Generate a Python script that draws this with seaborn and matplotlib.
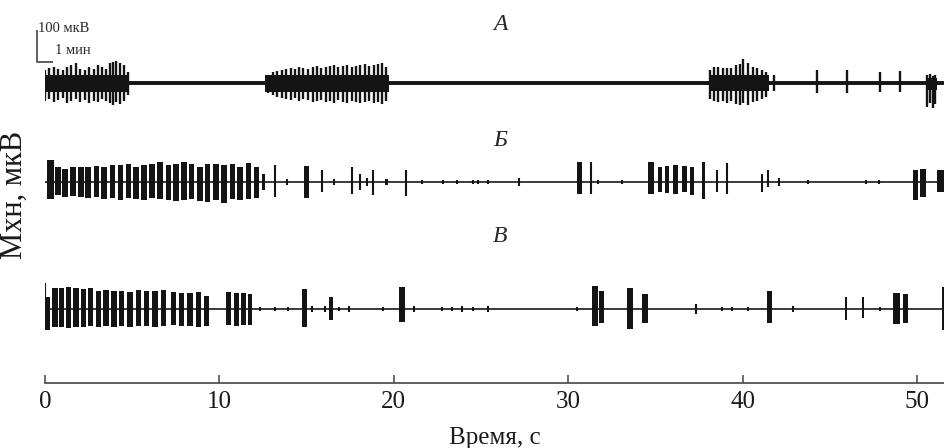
import numpy as np
import pandas as pd
import seaborn as sns
import matplotlib
matplotlib.use("Agg")
import matplotlib.pyplot as plt

# ---- data (time in s, amplitude in мкВ) ----
TRACE_NAMES = ["А", "Б", "В"]
TIME_TICKS = [0, 10, 20, 30, 40, 50]

# Trace A: dense bands under the bursts
A_BAND_T0 = [0.0, 12.6, 38.05, 50.5]
A_BAND_T1 = [4.8, 19.75, 41.5, 51.15]
A_BAND_UP = [25, 25, 25, 16]
A_BAND_DN = [28, 28, 25, 22]

# Trace A: single spikes
A_SPIKE_T = [0.02, 0.23, 0.5, 0.75, 1.03, 1.28, 1.51, 1.76, 2.02, 2.27, 2.5, 2.79,
             3.04, 3.29, 3.52, 3.71, 3.9, 4.09, 4.32, 4.53, 4.76,
             12.81, 13.06, 13.32, 13.57, 13.82, 14.09, 14.33, 14.58, 14.81, 15.1,
             15.35, 15.58, 15.83, 16.09, 16.34, 16.57, 16.82, 17.07, 17.33, 17.59,
             17.83, 18.06, 18.35, 18.6, 18.86, 19.11, 19.31, 19.55,
             38.13, 38.36, 38.61, 38.86, 39.09, 39.33, 39.6, 39.85, 40.04, 40.33,
             40.57, 40.81, 41.09, 41.34, 41.8,
             44.27, 46.0, 47.9, 49.0,
             50.6, 50.75, 50.9, 51.05]
A_SPIKE_UP = [41, 47, 50, 44, 41, 50, 56, 62, 44, 41, 50, 44,
              56, 50, 44, 62, 66, 69, 62, 56, 34,
              25, 34, 38, 41, 44, 47, 44, 50, 47, 44,
              50, 53, 47, 50, 53, 56, 50, 53, 56, 50,
              53, 56, 59, 53, 56, 59, 62, 50,
              41, 50, 50, 47, 47, 47, 56, 59, 75, 62,
              50, 47, 41, 34, 25,
              41, 41, 34, 38,
              25, 28, 22, 25]
A_SPIKE_DN = [56, 50, 59, 53, 47, 62, 56, 50, 59, 53, 62, 56,
              59, 50, 56, 62, 69, 59, 66, 56, 38,
              31, 38, 44, 47, 50, 53, 47, 56, 50, 53,
              59, 56, 53, 59, 56, 62, 53, 59, 62, 56,
              59, 62, 59, 56, 62, 59, 66, 56,
              50, 56, 59, 56, 62, 56, 66, 69, 62, 69,
              59, 56, 50, 44, 25,
              31, 31, 28, 28,
              75, 62, 78, 66]

# Trace Б: bursts (duration 0 = single spike)
B_T = [0.29, 0.76, 1.15, 1.59, 2.05, 2.48, 2.96, 3.38, 3.88, 4.34, 4.78, 5.22,
       5.68, 6.13, 6.59, 7.07, 7.51, 7.97, 8.41, 8.89, 9.31, 9.8, 10.26, 10.74,
       11.18, 11.66, 12.14, 12.52,
       13.19, 13.9, 15.0, 15.87, 16.6, 17.59, 18.06, 18.44, 18.79, 19.59, 20.7,
       21.6, 22.8, 23.6, 24.56, 24.85, 25.4, 27.2,
       30.65, 31.29, 31.7, 33.07, 34.75, 35.27, 35.67, 36.17, 36.67, 37.1, 37.75,
       38.51, 39.09, 41.09, 41.44, 42.1, 43.77, 47.1, 47.84,
       49.93, 50.36, 51.34]
B_DUR = [0.4, 0.32, 0.32, 0.32, 0.32, 0.32, 0.32, 0.32, 0.32, 0.32, 0.32, 0.32,
         0.32, 0.32, 0.32, 0.32, 0.32, 0.32, 0.32, 0.32, 0.32, 0.32, 0.32, 0.32,
         0.32, 0.32, 0.3, 0.15,
         0, 0, 0.24, 0, 0, 0, 0, 0, 0, 0.15, 0,
         0, 0, 0, 0, 0, 0, 0,
         0.26, 0, 0, 0, 0.34, 0.2, 0.25, 0.3, 0.28, 0.25, 0.2,
         0, 0, 0, 0, 0, 0, 0, 0,
         0.3, 0.32, 0.42]
B_UP = [69, 47, 41, 47, 47, 47, 50, 47, 53, 53, 56, 47,
        53, 56, 62, 53, 56, 62, 56, 47, 56, 56, 53, 56,
        47, 59, 47, 25,
        53, 9, 50, 38, 9, 47, 25, 12, 38, 9, 38,
        6, 6, 6, 6, 6, 6, 12,
        62, 62, 6, 6, 62, 47, 50, 53, 50, 47, 62,
        38, 59, 25, 38, 12, 6, 6, 6,
        38, 41, 38]
B_DN = [53, 41, 47, 44, 47, 50, 47, 53, 50, 56, 50, 53,
        56, 50, 53, 56, 59, 56, 53, 59, 62, 56, 66, 53,
        56, 53, 50, 25,
        47, 9, 50, 31, 9, 38, 25, 12, 41, 9, 44,
        6, 6, 6, 6, 6, 6, 12,
        38, 38, 6, 6, 38, 31, 34, 38, 31, 41, 53,
        31, 38, 31, 16, 12, 6, 6, 6,
        56, 47, 31]

# Trace В
V_T = [0.02, 0.15, 0.57, 0.96, 1.34, 1.78, 2.2, 2.62, 3.06, 3.5, 3.96, 4.4, 4.87,
       5.35, 5.83, 6.31, 6.78, 7.36, 7.84, 8.31, 8.79, 9.27,
       10.51, 10.99, 11.37, 11.75,
       12.33, 13.19, 13.95, 14.86, 15.29, 16.06, 16.4, 16.88, 17.45, 19.4, 20.48,
       21.18, 22.75, 23.32, 23.89, 24.56, 25.42, 30.49,
       31.55, 31.9, 33.55, 34.4, 37.33, 38.8, 39.37, 40.33, 41.52, 42.9,
       45.93, 46.92, 47.88, 48.84, 49.34, 51.5]
V_DUR = [0, 0.24, 0.3, 0.3, 0.3, 0.3, 0.3, 0.3, 0.3, 0.3, 0.3, 0.3, 0.3,
         0.3, 0.3, 0.3, 0.3, 0.3, 0.3, 0.3, 0.3, 0.28,
         0.3, 0.3, 0.26, 0.26,
         0, 0, 0, 0.28, 0, 0, 0.2, 0, 0, 0, 0.32,
         0, 0, 0, 0, 0, 0, 0,
         0.34, 0.32, 0.3, 0.38, 0, 0, 0, 0, 0.28, 0,
         0.1, 0.1, 0, 0.38, 0.3, 0.1]
V_UP = [81, 38, 66, 66, 69, 66, 62, 66, 56, 59, 56, 56, 53,
        59, 56, 56, 59, 53, 50, 50, 53, 41,
        53, 50, 50, 47,
        6, 6, 6, 62, 9, 9, 38, 6, 9, 6, 69,
        9, 6, 6, 9, 6, 9, 6,
        72, 56, 66, 47, 16, 6, 6, 6, 56, 9,
        38, 38, 6, 50, 47, 69]
V_DN = [66, 66, 56, 56, 59, 56, 56, 53, 56, 53, 56, 53, 56,
        53, 53, 56, 53, 50, 53, 53, 56, 53,
        50, 53, 50, 50,
        6, 6, 6, 56, 9, 9, 34, 6, 9, 6, 41,
        9, 6, 6, 9, 6, 9, 6,
        53, 44, 62, 44, 16, 6, 6, 6, 44, 9,
        34, 28, 6, 47, 44, 66]

# ---- layout ----
W, H = 944, 448
OFFSETS = [0, -309, -706]          # vertical position of each trace, мкВ
Y_TOP, Y_BOTTOM = 259, -937.5
X_MAX = 51.55

sns.set_theme(style="white")
plt.rcParams["font.family"] = ["Liberation Serif", "DejaVu Serif"]

fig = plt.figure(figsize=(W / 100, H / 100), dpi=100)
ax = fig.add_axes([45 / W, 65 / H, 899 / W, 383 / H])
ax.set_xlim(0, X_MAX)
ax.set_ylim(Y_BOTTOM, Y_TOP)

ink = "#141414"

# trace А
base = OFFSETS[0]
ax.axhline(base, color=ink, lw=2.8, zorder=2)
ax.bar(A_BAND_T0, np.array(A_BAND_UP) + np.array(A_BAND_DN),
       width=np.array(A_BAND_T1) - np.array(A_BAND_T0),
       bottom=base - np.array(A_BAND_DN), align="edge", color=ink, lw=0, zorder=2)
ax.vlines(A_SPIKE_T, base - np.array(A_SPIKE_DN), base + np.array(A_SPIKE_UP),
          color=ink, lw=1.7, zorder=3)

# traces Б and В
for base, t, dur, up, dn in [(OFFSETS[1], B_T, B_DUR, B_UP, B_DN),
                             (OFFSETS[2], V_T, V_DUR, V_UP, V_DN)]:
    df = pd.DataFrame({"t": t, "dur": dur, "up": up, "dn": dn})
    ax.axhline(base, color="#3a3a3a", lw=1.4, zorder=2)
    wide = df[df["dur"] > 0]
    thin = df[df["dur"] == 0]
    ax.bar(wide["t"], wide["up"] + wide["dn"], width=wide["dur"],
           bottom=base - wide["dn"], color=ink, lw=0, zorder=3)
    ax.vlines(thin["t"], base - thin["dn"], base + thin["up"],
              color=ink, lw=1.5, zorder=3)

# scale bar: 100 мкВ / 1 мин
ax.plot([-0.46, -0.46, 0.46], [166, 66, 66], color="#333333", lw=1.1,
        clip_on=False, solid_capstyle="butt")
fig.text(38 / W, 1 - 28 / H, "100 мкВ", fontsize=10.5, va="center", ha="left")
fig.text(55 / W, 1 - 51 / H, "1 мин", fontsize=10.5, va="center", ha="left")

# trace letters
for name, ypx in zip(TRACE_NAMES, [25, 140, 237]):
    fig.text(500 / W, 1 - ypx / H, name, fontsize=17, style="italic",
             ha="center", va="center")

# axes styling
sns.despine(ax=ax, left=True, top=True, right=True)
ax.spines["bottom"].set_color("#444444")
ax.spines["bottom"].set_linewidth(1.2)
ax.set_yticks([])
ax.set_xticks(TIME_TICKS)
ax.set_xticklabels([str(v) for v in TIME_TICKS])
ax.tick_params(axis="x", direction="in", length=6, width=1.1, color="#444444",
               labelsize=18, pad=6, bottom=True, labelcolor="#1a1a1a")
ax.set_xlabel("Время, с", fontsize=18, color="#1a1a1a")
ax.xaxis.label.set_va("center")
ax.xaxis.set_label_coords(0.5, (383 - 438) / 383)
fig.text(14 / W, 1 - 195 / H, "Мхн, мкВ", fontsize=22, rotation=90,
         ha="center", va="center", color="#1a1a1a")
ax.grid(False)

fig.savefig("out.png", dpi=100)
